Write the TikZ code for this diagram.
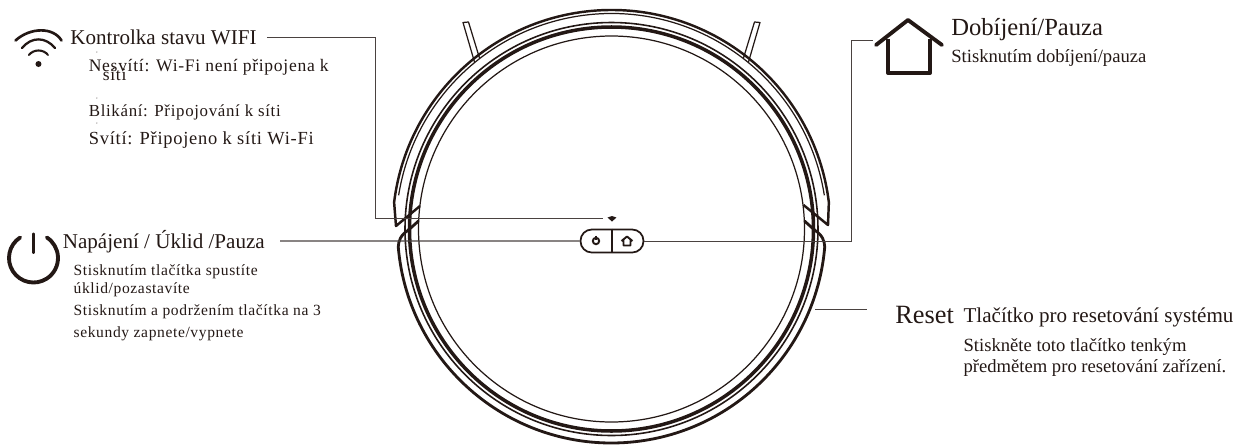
\documentclass[tikz,border=0pt]{standalone}
\usepackage{fontspec}
\setmainfont{Liberation Serif}
\newfontfamily\spacedfont[LetterSpace=4]{Liberation Serif}
\definecolor{ink}{HTML}{231815}
\definecolor{leader}{HTML}{4A4240}
\usetikzlibrary{calc}

\begin{document}
\begin{tikzpicture}[
  x=0.02cm, y=0.02cm, ink,
  every node/.style={inner sep=0pt, anchor=base west, text=ink, align=left},
  titletext/.style={font=\fontsize{12}{14}\selectfont, text height=0.277cm, text depth=0pt},
  subtext/.style={font=\fontsize{10}{12}\spacedfont},
  smalltext/.style={font=\fontsize{8.85}{10}\spacedfont},
  plaintext/.style={font=\fontsize{10.6}{12}\selectfont},
  leadline/.style={leader, line width=0.5pt},
  thinring/.style={line width=0.7pt},
  thickring/.style={line width=2pt},
  iconline/.style={line width=2.2pt, line cap=round, line join=round}
]
  \useasboundingbox (-611.5,229) rectangle (629.5,-215);

  \draw[thinring] (0,0) circle (193);
  \draw[thickring] (0,0) circle (202);
  \draw[line width=0.9pt] (0,0) circle (206.5);
  \draw[line width=1.4pt, line join=round] (192,24) -- (216.5,4) -- (7:219)
    arc (7:173:219) -- (-215.5,3) -- (-191.5,23);
  \draw[thinring] (9:215.5) arc (9:171:215.5);
  \draw[line width=1.6pt, line join=round] (-193,8) -- (-203,-1)
    .. controls (-211,-6) and (-213,-12) .. (184.8:214) arc (184.8:355.2:214)
    .. controls (213,-12) and (211,-6) .. (203,-1) -- (193,8);
  \draw[thinring, line join=round] (-137,167) -- (-148.5,206.5) -- (-143,207) -- (-132,171);
  \draw[thinring, line join=round] (137,167) -- (148.5,206.5) -- (143,207) -- (132,171);

  \node[draw=ink, line width=1pt, rounded corners=6.4pt, minimum width=1.26cm,
        minimum height=0.46cm, anchor=center] (dock) at (0.5,-12) {};
  \draw[line width=1pt] (dock.north) -- (dock.south);
  \draw[line width=1.1pt] (-15.5,-12) circle (3.2);
  \draw[line width=1.1pt] (-15.5,-6.5) -- (-15.5,-10.5);
  \draw[line width=1.1pt, line join=round] (10,-12) -- (15.5,-7.5) -- (21,-12)
    (12,-11) -- (12,-16.5) -- (19,-16.5) -- (19,-11);
  \fill (-4,11.5) -- (0.5,13) -- (5,11.5) -- (0.5,7.5) -- cycle;
  \coordinate (wifiend) at (-8,10.5);

  \draw[iconline, line width=1.5pt] (-596,188.5) .. controls (-581,202) and (-558,202) .. (-550,188.5);
  \draw[iconline, line width=1.3pt] (-589.5,181) .. controls (-580,192.5) and (-566,192.5) .. (-556.5,181);
  \draw[iconline, line width=1.2pt] (-582.5,174) .. controls (-578,180) and (-568,180) .. (-563.5,174);
  \fill (-573,165) circle (3);

  \draw[iconline] (-578,-29) ++(123:24.5) arc (123:417:24.5);
  \draw[iconline] (-578,-5.5) -- (-578,-23);

  \draw[iconline] (264.5,184) -- (296.5,209) -- (330.5,184);
  \draw[iconline, line cap=butt] (276.5,190) -- (276.5,156) -- (318.5,156) -- (318.5,190);
  \coordinate (homeicon) at (261.5,188.5);
  \coordinate (homeelbow) at (240,188.5);

  \node[titletext] (wifititle) at (-541.5,184.7) {Kontrolka stavu WIFI};
  \node[subtext] (wifioff) at (-523,157.3) {Nesvítí: Wi-Fi není připojena k};
  \node[subtext] (wifioffb) at (-509,148.3) {síti};
  \node[subtext, font=\fontsize{9.6}{12}\spacedfont] (wifiblink) at (-523,113) {Blikání: Připojování k síti};
  \node[subtext, font=\fontsize{10.5}{12}\spacedfont] (wifion) at (-523,85) {Svítí: Připojeno k síti Wi-Fi};
  \foreach \doty in {177,131,106}
    \fill (-514.5,\doty) circle (0.5);

  \node[titletext] (powertitle) at (-549,-19) {Napájení / Úklid /Pauza};
  \node[smalltext] (powera) at (-538.2,-46.7) {Stisknutím tlačítka spustíte};
  \node[smalltext] (powerb) at (-538.2,-64) {úklid/pozastavíte};
  \node[smalltext] (powerc) at (-538.2,-86.7) {Stisknutím a podržením tlačítka na 3};
  \node[smalltext] (powerd) at (-538.2,-108) {sekundy zapnete/vypnete};

  \node[titletext, font=\fontsize{14}{16}\selectfont] (hometitle) at (339.5,194) {Dobíjení/Pauza};
  \node[plaintext] (homesub) at (339.5,166.3) {Stisknutím dobíjení/pauza};

  \node[font=\fontsize{15}{17}\selectfont] (resettitle) at (283.5,-94.3) {Reset};
  \node[titletext] (resetname) at (351.7,-93.7) {Tlačítko pro resetování systému};
  \node[plaintext] (reseta) at (351.7,-122.7) {Stiskněte toto tlačítko tenkým};
  \node[plaintext] (resetb) at (351.7,-143.7) {předmětem pro resetování zařízení.};
  \coordinate (resetfrom) at (203.5,-80);
  \coordinate (resetto) at (255.5,-80);

  \coordinate (wifielbow) at ($(wifititle.east)+(119,0)$);
  \draw[leadline] ($(wifititle.east)+(10,0)$) -- (wifielbow) |- (wifiend);
  \draw[leadline, line width=0.7pt] ($(powertitle.east)+(15,0)$) -- (dock.west);
  \draw[leadline] (homeicon) -- (homeelbow) |- (dock.east);
  \draw[leadline] (resetfrom) -- (resetto);
\end{tikzpicture}
\end{document}
